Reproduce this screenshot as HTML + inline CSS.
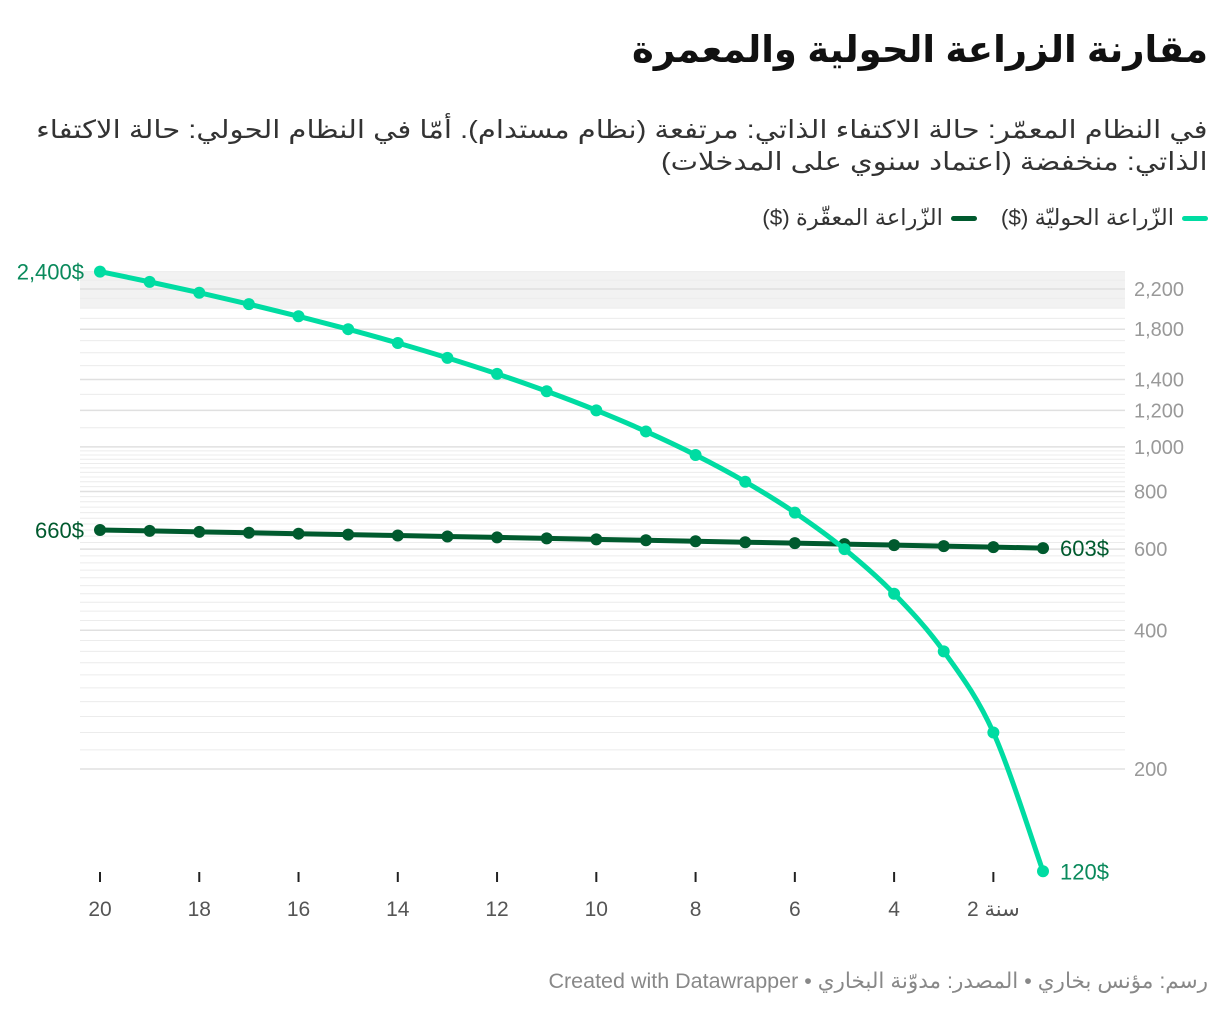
<!DOCTYPE html>
<html><head><meta charset="utf-8"><style>
body{margin:0;width:1220px;height:1014px;background:#fff;font-family:"Liberation Sans","Noto Sans CJK SC","DejaVu Sans",sans-serif;position:relative;overflow:hidden}
.t{position:absolute;right:12px;direction:rtl;text-align:right;white-space:nowrap}
.sx{display:block;transform:scaleX(1.165);transform-origin:right center}
</style></head><body>
<div class="t" style="top:28px;font-size:37px;font-weight:bold;color:#111;">مقارنة الزراعة الحولية والمعمرة</div>
<div class="t" style="top:114px;font-size:25px;line-height:32px;color:#333;"><span class="sx">في النظام المعمّر: حالة الاكتفاء الذاتي: مرتفعة (نظام مستدام). أمّا في النظام الحولي: حالة الاكتفاء</span><span class="sx">الذاتي: منخفضة (اعتماد سنوي على المدخلات)</span></div>
<div class="t" style="top:205px;font-size:22.5px;color:#333;display:flex;gap:14px;align-items:center;">
 <span style="display:flex;align-items:center;gap:8px"><span style="display:inline-block;width:26px;height:5px;background:#00dca2;border-radius:3px"></span>الزّراعة الحوليّة ($)</span>
 <span style="display:flex;align-items:center;gap:8px;margin-right:10px"><span style="display:inline-block;width:26px;height:5px;background:#005a2e;border-radius:3px"></span>الزّراعة المعقّرة ($)</span>
</div>
<svg id="c" width="1220" height="1014" style="position:absolute;left:0;top:0"></svg>
<div class="t" style="top:969px;font-size:21.5px;color:#888;">رسم: مؤنس بخاري • المصدر: مدوّنة البخاري • Created with Datawrapper</div>
<script>
const years=[20,19,18,17,16,15,14,13,12,11,10,9,8,7,6,5,4,3,2,1];
const annual=[2400,2280,2160,2040,1920,1800,1680,1560,1440,1320,1200,1080,960,840,720,600,480,360,240,120];
const perennial=[660,657,654,651,648,645,642,639,636,633,630,627,624,621,618,615,612,609,606,603];
const yTicks=[2200,1800,1400,1200,1000,800,600,400,200];
const yTickLabels=["2,200","1,800","1,400","1,200","1,000","800","600","400","200"];
const xTicks=[20,18,16,14,12,10,8,6,4,2];
const xTickLabels=["20","18","16","14","12","10","8","6","4","سنة 2"];
const NS="http://www.w3.org/2000/svg",svg=document.getElementById('c');
const x=v=>100+(20-v)*(1043-100)/19;
const y=v=>769-Math.log10(v/200)*460.9;
function mk(t,a,p){const e=document.createElementNS(NS,t);for(const k in a)e.setAttribute(k,a[k]);(p||svg).appendChild(e);return e;}
const band=mk('rect',{x:80,y:y(2400),width:1045,height:y(2000)-y(2400),fill:'#f2f2f2'});


for(let v=200;v<=2400;v+=(v<1000?20:100)){const l=mk('line',{x1:80,x2:1125,y1:y(v),y2:y(v),stroke:'#ececec','stroke-width':1});

}
yTicks.forEach((v,i)=>{const l=mk('line',{x1:80,x2:1125,y1:y(v),y2:y(v),stroke:'#e0e0e0','stroke-width':1.5});


const t=mk('text',{x:1134,y:y(v)+7,'font-size':20,fill:'#999'});t.textContent=yTickLabels[i];

});
xTicks.forEach((v,i)=>{const l=mk('line',{x1:x(v),x2:x(v),y1:872,y2:882,stroke:'#222','stroke-width':2});


const t=mk('text',{x:x(v),y:916,'font-size':21,fill:'#555','text-anchor':'middle',direction:i==xTicks.length-1?'rtl':'ltr'});t.textContent=xTickLabels[i];

});
function smooth(pts){let d=`M${pts[0][0]},${pts[0][1]}`;for(let i=0;i<pts.length-1;i++){const p0=pts[Math.max(0,i-1)],p1=pts[i],p2=pts[i+1],p3=pts[Math.min(pts.length-1,i+2)];
d+=` C${p1[0]+(p2[0]-p0[0])/6},${p1[1]+(p2[1]-p0[1])/6} ${p2[0]-(p3[0]-p1[0])/6},${p2[1]-(p3[1]-p1[1])/6} ${p2[0]},${p2[1]}`;}return d;}
function series(vals,col,name,curve){const pts=years.map((yr,i)=>[x(yr),y(vals[i])]);
const p=mk('path',{d:curve?smooth(pts):'M'+pts.map(q=>q.join(',')).join('L'),fill:'none',stroke:col,'stroke-width':5,'stroke-linejoin':'round'});


pts.forEach(q=>{const c=mk('circle',{cx:q[0],cy:q[1],r:6,fill:col});

});}
series(perennial,'#005a2e','perennial',false);
series(annual,'#00dca2','annual',true);
function lab(txt,xx,v,col,anchor){const t=mk('text',{x:xx,y:y(v)+8,'font-size':22,fill:col,'text-anchor':anchor});t.textContent=txt;

}
lab(annual[0].toLocaleString('en-US')+'$',84,annual[0],'#0a8a5c','end');
lab(perennial[0]+'$',84,perennial[0],'#005a2e','end');
lab(perennial[19]+'$',1060,perennial[19],'#005a2e','start');
lab(annual[19]+'$',1060,annual[19],'#0a8a5c','start');
</script>
</body></html>
